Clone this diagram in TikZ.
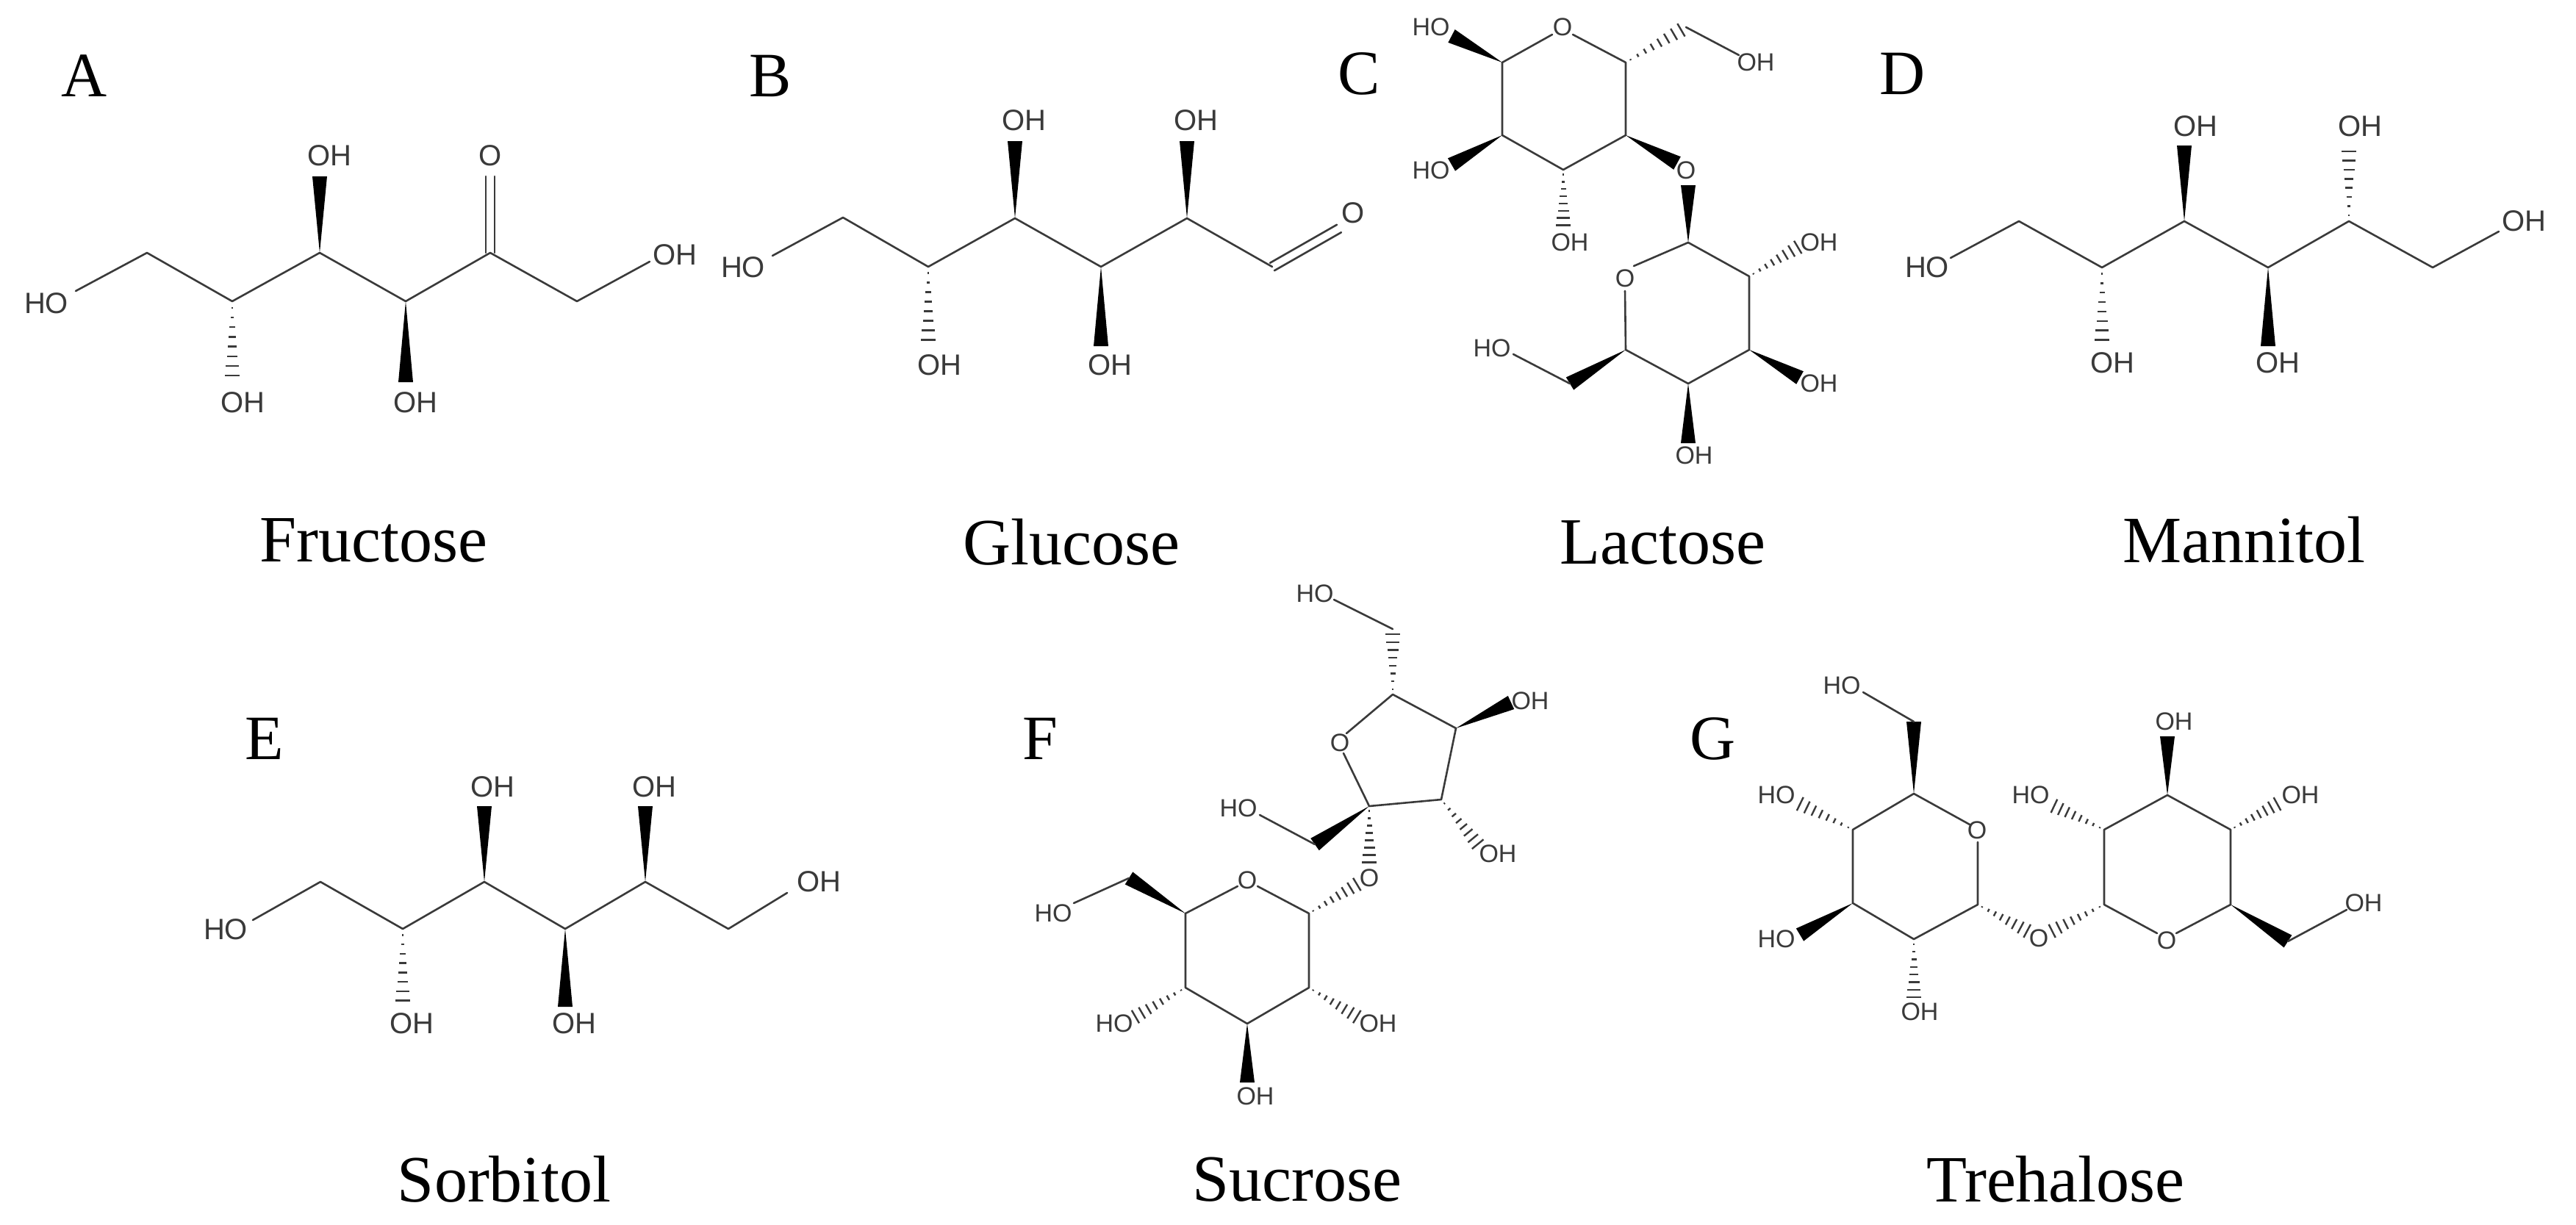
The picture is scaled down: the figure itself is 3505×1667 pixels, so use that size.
\documentclass[tikz,border=0pt]{standalone}
\usepackage{fontspec}
\setmainfont{Liberation Serif}
\newfontfamily\chemfont{Liberation Sans}
\usetikzlibrary{calc}
\definecolor{bondc}{HTML}{3A3A3A}
\tikzset{
  bond/.style={draw=bondc,line width=2.6pt,line cap=round,line join=round},
  hashl/.style={draw=bondc,line width=2.4pt},
  wedgec/.style={fill=black},
  lab/.style={font=\chemfont\fontsize{40}{40}\selectfont,text=bondc,inner sep=0pt},
  labs/.style={font=\chemfont\fontsize{34}{34}\selectfont,text=bondc,inner sep=0pt},
  captxt/.style={font=\fontsize{90}{90}\selectfont,inner sep=0pt},
  letter/.style={font=\fontsize{86}{86}\selectfont,inner sep=0pt}
}
\newcommand\bd[2]{\draw[bond] (#1) -- (#2);}
\newcommand\wg[2]{\fill[wedgec] (#1) -- ($(#2)!10pt!90:(#1)$) -- ($(#2)!10pt!-90:(#1)$) -- cycle;}
\newcommand\hs[2]{\foreach \t in {0.08,0.2,...,0.95}{\draw[hashl] ($(#1)!\t!(#2)!{\t*11pt}!90:(#2)$) -- ($(#1)!\t!(#2)!{\t*11pt}!-90:(#2)$);}}
\newcommand\db[2]{\draw[bond] ($(#1)!6pt!90:(#2)$) -- ($(#2)!6pt!-90:(#1)$); \draw[bond] ($(#1)!6pt!-90:(#2)$) -- ($(#2)!6pt!90:(#1)$);}
\begin{document}
\begin{tikzpicture}[x=1pt,y=-1pt]
\useasboundingbox[fill=white] (0,0) rectangle (3505,1667);
% ---------------- A Fructose
\node[letter] (lA) at (115,103) {A};
\coordinate (f0) at (103,396); \coordinate (f1) at (200,344); \coordinate (f2) at (316,410);
\coordinate (f3) at (435,344); \coordinate (f4) at (552,410); \coordinate (f5) at (667,344);
\coordinate (f6) at (785,410); \coordinate (f7) at (884,356);
\draw[bond] (f0)--(f1)--(f2)--(f3)--(f4)--(f5)--(f6)--(f7);
\coordinate (f3u) at (435,240); \wg{f3}{f3u}
\coordinate (f5u) at (667,240); \db{f5}{f5u}
\coordinate (f2d) at (316,520); \hs{f2}{f2d}
\coordinate (f4d) at (552,520); \wg{f4}{f4d}
\node[lab] (fHO) at (63,413) {HO};
\node[lab] (fOH1) at (918,347) {OH};
\node[lab] (fOH2) at (448,212) {OH};
\node[lab] (fO) at (667,212) {O};
\node[lab] (fOH3) at (330,548) {OH};
\node[lab] (fOH4) at (565,548) {OH};
\node[captxt] (cA) at (508,735) {Fructose};
% ---------------- B Glucose
\node[letter] (lB) at (1048,103) {B};
\coordinate (g0) at (1051,348); \coordinate (g1) at (1147,296); \coordinate (g2) at (1263,363);
\coordinate (g3) at (1381,297); \coordinate (g4) at (1498,363); \coordinate (g5) at (1615,297);
\coordinate (g6) at (1731,363); \coordinate (g7) at (1822,311);
\draw[bond] (g0)--(g1)--(g2)--(g3)--(g4)--(g5)--(g6);
\db{g6}{g7}
\coordinate (g3u) at (1381,192); \wg{g3}{g3u}
\coordinate (g5u) at (1615,192); \wg{g5}{g5u}
\coordinate (g2d) at (1263,471); \hs{g2}{g2d}
\coordinate (g4d) at (1498,471); \wg{g4}{g4d}
\node[lab] (gHO) at (1011,364) {HO};
\node[lab] (gO) at (1841,290) {O};
\node[lab] (gOH1) at (1393,164) {OH};
\node[lab] (gOH2) at (1627,164) {OH};
\node[lab] (gOH3) at (1278,497) {OH};
\node[lab] (gOH4) at (1510,497) {OH};
\node[captxt] (cB) at (1458,738) {Glucose};
% ---------------- C Lactose
\node[letter] (lC) at (1849,100) {C};
\coordinate (l1) at (2044,85); \coordinate (lO) at (2126,39); \coordinate (l5) at (2212,85);
\coordinate (l4) at (2212,184); \coordinate (l3) at (2127,231); \coordinate (l2) at (2044,184);
\draw[bond] (2112,47)--(l1)--(l2)--(l3)--(l4)--(l5)--(2140,47);
\coordinate (l1a) at (1975,49); \wg{l1}{l1a}
\coordinate (l6) at (2294,37); \hs{l5}{l6}
\coordinate (l6o) at (2366,75); \bd{l6}{l6o}
\coordinate (l2a) at (1975,224); \wg{l2}{l2a}
\coordinate (l3a) at (2127,313); \hs{l3}{l3a}
\coordinate (l4a) at (2282,222); \wg{l4}{l4a}
\coordinate (m1) at (2297,330); \coordinate (m2) at (2380,376); \coordinate (m3) at (2380,476);
\coordinate (m4) at (2297,522); \coordinate (m5) at (2212,476); \coordinate (mO) at (2211,379);
\coordinate (mOa) at (2297,252); \wg{m1}{mOa}
\draw[bond] (2223,362)--(m1)--(m2)--(m3)--(m4)--(m5)--(2211,396);
\coordinate (m2a) at (2452,333); \hs{m2}{m2a}
\coordinate (m3a) at (2449,514); \wg{m3}{m3a}
\coordinate (m4a) at (2297,603); \wg{m4}{m4a}
\coordinate (m6) at (2136,522); \wg{m5}{m6}
\coordinate (m6o) at (2059,482); \bd{m6}{m6o}
\node[labs] (lHO1) at (1947,37) {HO};
\node[labs] (lOr) at (2126,37) {O};
\node[labs] (lOH1) at (2389,85) {OH};
\node[labs] (lHO2) at (1947,232) {HO};
\node[labs] (lOH2) at (2136,330) {OH};
\node[labs] (lOg) at (2294,232) {O};
\node[labs] (lOr2) at (2211,379) {O};
\node[labs] (lOH3) at (2475,330) {OH};
\node[labs] (lOH4) at (2475,522) {OH};
\node[labs] (lOH5) at (2305,620) {OH};
\node[labs] (lHO3) at (2030,474) {HO};
\node[captxt] (cC) at (2262,738) {Lactose};
% ---------------- D Mannitol
\node[letter] (lD) at (2589,100) {D};
\coordinate (n0) at (2654,351); \coordinate (n1) at (2747,301); \coordinate (n2) at (2860,364);
\coordinate (n3) at (2972,301); \coordinate (n4) at (3086,364); \coordinate (n5) at (3196,301);
\coordinate (n6) at (3310,364); \coordinate (n7) at (3400,315);
\draw[bond] (n0)--(n1)--(n2)--(n3)--(n4)--(n5)--(n6)--(n7);
\coordinate (n2d) at (2860,471); \hs{n2}{n2d}
\coordinate (n3u) at (2972,198); \wg{n3}{n3u}
\coordinate (n4d) at (3086,471); \wg{n4}{n4d}
\coordinate (n5u) at (3196,198); \hs{n5}{n5u}
\node[lab] (nHO) at (2622,364) {HO};
\node[lab] (nOH1) at (3434,301) {OH};
\node[lab] (nOH2) at (2874,494) {OH};
\node[lab] (nOH3) at (2987,172) {OH};
\node[lab] (nOH4) at (3099,494) {OH};
\node[lab] (nOH5) at (3211,172) {OH};
\node[captxt] (cD) at (3053,735) {Mannitol};
% ---------------- E Sorbitol
\node[letter] (lE) at (360,1005) {E};
\coordinate (s0) at (344,1252); \coordinate (s1) at (436,1200); \coordinate (s2) at (548,1264);
\coordinate (s3) at (659,1200); \coordinate (s4) at (769,1264); \coordinate (s5) at (878,1200);
\coordinate (s6) at (991,1264); \coordinate (s7) at (1071,1215);
\draw[bond] (s0)--(s1)--(s2)--(s3)--(s4)--(s5)--(s6)--(s7);
\coordinate (s2d) at (548,1370); \hs{s2}{s2d}
\coordinate (s3u) at (659,1097); \wg{s3}{s3u}
\coordinate (s4d) at (769,1370); \wg{s4}{s4d}
\coordinate (s5u) at (878,1097); \wg{s5}{s5u}
\node[lab] (sHO) at (307,1265) {HO};
\node[lab] (sOH1) at (1114,1200) {OH};
\node[lab] (sOH2) at (560,1393) {OH};
\node[lab] (sOH3) at (670,1071) {OH};
\node[lab] (sOH4) at (781,1393) {OH};
\node[lab] (sOH5) at (890,1071) {OH};
\node[captxt] (cE) at (686,1605) {Sorbitol};
% ---------------- F Sucrose
\node[letter] (lF) at (1415,1005) {F};
\coordinate (u5) at (1613,1243); \coordinate (u4) at (1613,1344); \coordinate (u3) at (1697,1393);
\coordinate (u2) at (1781,1344); \coordinate (u1) at (1781,1243);
\draw[bond] (1684,1206)--(u5)--(u4)--(u3)--(u2)--(u1)--(1711,1206);
\coordinate (u6) at (1536,1195); \wg{u5}{u6}
\coordinate (u6o) at (1461,1229); \bd{u6}{u6o}
\coordinate (u4a) at (1539,1387); \hs{u4}{u4a}
\coordinate (u3a) at (1697,1473); \wg{u3}{u3a}
\coordinate (u2a) at (1852,1387); \hs{u2}{u2a}
\coordinate (u1a) at (1852,1200); \hs{u1}{u1a}
\coordinate (v2) at (1863,1097); \coordinate (v5) at (1895,945); \coordinate (v4) at (1981,991);
\coordinate (v3) at (1961,1088);
\coordinate (vOa) at (1863,1180); \hs{v2}{vOa}
\draw[bond] (1828,1025)--(v2)--(v3)--(v4)--(v5)--(1832,998);
\coordinate (v6) at (1895,856); \hs{v5}{v6}
\coordinate (v6o) at (1815,816); \bd{v6}{v6o}
\coordinate (v4a) at (2056,956); \wg{v4}{v4a}
\coordinate (v3a) at (2015,1154); \hs{v3}{v3a}
\coordinate (v1) at (1789,1149); \wg{v2}{v1}
\coordinate (v1o) at (1714,1109); \bd{v1}{v1o}
\node[labs] (uHO1) at (1433,1243) {HO};
\node[labs] (uO) at (1697,1198) {O};
\node[labs] (uHO2) at (1516,1393) {HO};
\node[labs] (uOH1) at (1708,1492) {OH};
\node[labs] (uOH2) at (1875,1393) {OH};
\node[labs] (uOg) at (1863,1195) {O};
\node[labs] (vO) at (1823,1011) {O};
\node[labs] (vHO1) at (1789,808) {HO};
\node[labs] (vOH1) at (2082,954) {OH};
\node[labs] (vOH2) at (2038,1162) {OH};
\node[labs] (vHO2) at (1685,1100) {HO};
\node[captxt] (cF) at (1765,1605) {Sucrose};
% ---------------- G Trehalose
\node[letter] (lG) at (2331,1005) {G};
\coordinate (t5) at (2604,1080); \coordinate (t4) at (2521,1129); \coordinate (t3) at (2521,1229);
\coordinate (t2) at (2604,1278); \coordinate (t1) at (2691,1231); \coordinate (tO) at (2690,1130);
\draw[bond] (2680,1122)--(t5)--(t4)--(t3)--(t2)--(t1)--(2691,1146);
\coordinate (t6) at (2604,982); \wg{t5}{t6}
\coordinate (t6o) at (2535,942); \bd{t6}{t6o}
\coordinate (t4a) at (2443,1091); \hs{t4}{t4a}
\coordinate (t3a) at (2449,1272); \wg{t3}{t3a}
\coordinate (t2a) at (2604,1364); \hs{t2}{t2a}
\coordinate (t1a) at (2764,1270); \hs{t1}{t1a}
\coordinate (w1) at (2863,1231); \coordinate (w2) at (2863,1129); \coordinate (w3) at (2949,1082);
\coordinate (w4) at (3035,1129); \coordinate (w5) at (3035,1231); \coordinate (wO) at (2948,1278);
\coordinate (w1a) at (2786,1270); \hs{w1}{w1a}
\draw[bond] (2935,1270)--(w1)--(w2)--(w3)--(w4)--(w5)--(2961,1270);
\coordinate (w2a) at (2789,1094); \hs{w2}{w2a}
\coordinate (w3a) at (2949,1002); \wg{w3}{w3a}
\coordinate (w4a) at (3104,1091); \hs{w4}{w4a}
\coordinate (w6) at (3113,1281); \wg{w5}{w6}
\coordinate (w6o) at (3193,1238); \bd{w6}{w6o}
\node[labs] (tHO1) at (2506,933) {HO};
\node[labs] (tHO2) at (2417,1082) {HO};
\node[labs] (tHO3) at (2417,1278) {HO};
\node[labs] (tOH1) at (2612,1377) {OH};
\node[labs] (tOr) at (2690,1130) {O};
\node[labs] (tOg) at (2774,1277) {O};
\node[labs] (wOr) at (2948,1280) {O};
\node[labs] (wHO) at (2763,1082) {HO};
\node[labs] (wOH1) at (2958,982) {OH};
\node[labs] (wOH2) at (3130,1082) {OH};
\node[labs] (wOH3) at (3216,1229) {OH};
\node[captxt] (cG) at (2797,1605) {Trehalose};
\end{tikzpicture}
\end{document}
